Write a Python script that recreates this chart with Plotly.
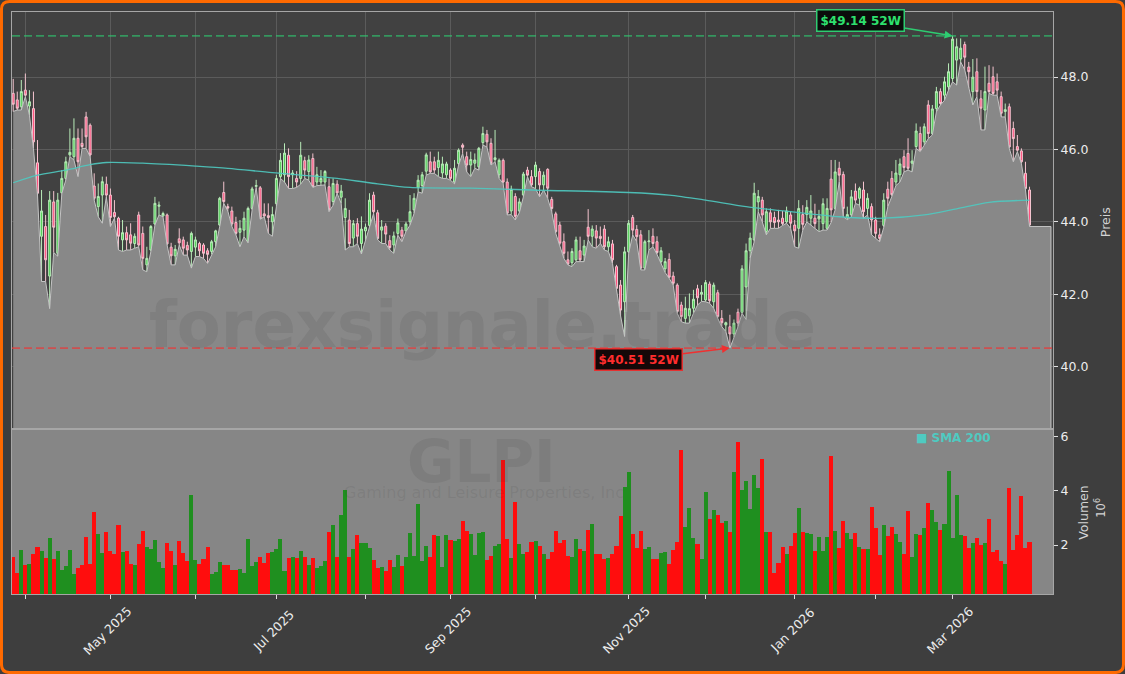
import plotly.graph_objects as go
from plotly.subplots import make_subplots

# ---------------- data (daily candles, trading-day index 0..251) ----------------
opens = [
    47.55, 47.37, 47.18, 47.64, 47.20, 47.13, 45.63, 43.60, 43.87, 42.50,
    44.55, 43.13, 44.80, 45.20, 45.85, 45.80, 46.31, 46.17, 46.90, 46.67,
    44.99, 44.42, 44.74, 45.04, 44.74, 44.26, 44.10, 43.50, 43.70, 43.64,
    43.40, 44.19, 43.68, 42.81, 43.22, 43.94, 44.43, 44.16, 44.19, 43.30,
    43.06, 43.53, 43.50, 43.35, 43.18, 43.30, 43.40, 43.36, 43.20, 43.18,
    43.45, 43.91, 44.81, 44.42, 44.30, 43.98, 43.71, 43.77, 43.43, 44.37,
    44.98, 44.94, 44.22, 44.17, 44.00, 44.50, 45.25, 45.30, 45.84, 45.30,
    45.20, 45.20, 45.69, 45.39, 45.75, 45.10, 45.10, 45.10, 44.97, 44.56,
    45.04, 44.68, 44.12, 44.05, 43.55, 43.95, 43.40, 43.75, 43.90, 44.74,
    44.25, 43.77, 43.88, 43.48, 43.36, 43.68, 43.77, 43.75, 44.00, 44.33,
    44.95, 45.00, 45.40, 45.66, 45.66, 45.50, 45.35, 45.30, 45.43, 45.10,
    45.61, 46.12, 45.80, 45.57, 45.62, 45.52, 46.19, 46.42, 46.17, 45.72,
    45.30, 45.70, 45.10, 44.30, 44.70, 44.30, 44.74, 45.43, 45.25, 45.25,
    45.39, 45.02, 45.45, 44.62, 44.22, 43.91, 43.45, 42.95, 42.87, 42.95,
    43.20, 43.08, 43.85, 43.60, 43.75, 43.60, 43.80, 43.31, 43.39, 42.76,
    42.25, 41.79, 43.17, 44.12, 43.79, 43.64, 42.72, 43.45, 43.60, 43.45,
    42.90, 42.70, 42.96, 42.50, 42.25, 41.70, 41.33, 41.40, 41.61, 42.15,
    42.00, 41.84, 42.28, 41.79, 42.04, 41.33, 41.15, 41.10, 40.90, 41.50,
    41.50, 42.20, 43.20, 43.50, 44.55, 44.60, 43.73, 44.25, 44.12, 44.05,
    44.10, 44.00, 44.19, 43.91, 43.82, 44.20, 44.20, 44.10, 44.10, 44.08,
    43.95, 43.82, 45.18, 44.37, 45.48, 45.31, 44.11, 44.19, 44.85, 44.65,
    44.88, 44.37, 44.42, 44.05, 43.64, 43.90, 44.90, 45.20, 45.10, 45.30,
    45.80, 45.89, 45.62, 46.08, 46.44, 46.21, 47.23, 46.44, 47.13, 47.60,
    47.50, 47.73, 47.96, 48.47, 48.50, 48.90, 48.28, 47.60, 48.15, 47.40,
    47.09, 47.83, 48.01, 47.87, 47.46, 47.05, 47.18, 46.58, 46.08, 45.96,
    45.34, 44.88,
]
highs = [
    47.95, 47.60, 47.92, 48.10, 47.64, 47.60, 46.26, 44.88, 44.19, 44.85,
    44.85, 44.80, 45.43, 45.80, 46.58, 46.86, 46.58, 46.58, 47.04, 46.72,
    45.34, 45.06, 45.25, 45.25, 44.92, 44.60, 44.14, 44.05, 43.87, 43.96,
    43.68, 44.28, 43.87, 43.31, 43.91, 44.69, 44.56, 44.28, 44.23, 43.42,
    43.36, 43.82, 43.59, 43.45, 43.73, 43.59, 43.45, 43.41, 43.27, 43.50,
    43.78, 44.69, 45.11, 44.50, 44.42, 44.14, 44.05, 44.28, 44.42, 44.97,
    45.16, 44.99, 44.51, 44.51, 44.42, 45.30, 45.90, 46.17, 46.03, 45.43,
    45.40, 46.21, 45.80, 45.84, 45.89, 45.52, 45.43, 45.43, 45.20, 45.20,
    45.15, 45.02, 44.65, 44.33, 44.05, 44.10, 44.15, 43.95, 44.79, 44.83,
    44.33, 44.05, 43.96, 43.63, 43.73, 44.09, 43.86, 44.00, 44.74, 44.79,
    45.29, 45.38, 45.91, 45.94, 45.80, 45.94, 45.80, 45.66, 45.48, 45.71,
    46.03, 46.17, 45.94, 45.94, 45.89, 46.07, 46.63, 46.54, 46.31, 46.54,
    45.75, 45.75, 45.20, 45.00, 44.79, 44.65, 45.38, 45.52, 45.43, 45.66,
    45.48, 45.39, 45.48, 44.69, 44.28, 44.00, 43.68, 43.18, 43.27, 43.59,
    43.59, 43.50, 44.35, 43.90, 43.91, 43.87, 43.91, 43.59, 43.50, 42.81,
    42.39, 43.31, 44.05, 44.19, 43.91, 43.77, 43.50, 43.77, 43.82, 43.60,
    43.30, 43.00, 43.13, 42.62, 42.30, 41.79, 41.93, 42.02, 42.12, 42.26,
    42.25, 42.39, 42.35, 42.32, 42.12, 41.56, 41.24, 41.43, 41.30, 41.60,
    42.80, 43.40, 43.70, 45.08, 44.88, 44.69, 44.37, 44.37, 44.28, 44.33,
    44.30, 44.42, 44.28, 44.05, 44.60, 44.46, 44.60, 44.74, 44.50, 44.33,
    44.65, 44.65, 45.71, 45.71, 45.66, 45.39, 44.42, 44.88, 45.06, 44.97,
    45.11, 44.79, 44.51, 44.14, 43.82, 44.79, 45.11, 45.40, 45.71, 45.75,
    45.98, 46.31, 45.98, 46.72, 46.63, 46.72, 47.36, 47.23, 47.73, 47.69,
    48.01, 48.38, 49.14, 49.07, 49.07, 48.98, 48.42, 48.50, 48.52, 47.64,
    48.29, 48.33, 48.29, 48.10, 47.60, 47.27, 47.27, 46.77, 46.40, 46.03,
    45.66, 44.97,
]
lows = [
    47.05, 47.09, 47.09, 47.46, 46.95, 46.03, 44.74, 42.35, 42.35, 41.60,
    43.15, 43.05, 44.78, 45.16, 45.80, 45.71, 45.25, 46.03, 46.03, 45.80,
    44.60, 44.14, 43.96, 44.69, 43.87, 44.10, 43.22, 43.18, 43.22, 43.22,
    43.27, 43.31, 42.67, 42.62, 43.18, 43.91, 44.19, 44.14, 43.36, 42.81,
    42.81, 43.36, 43.08, 43.08, 42.72, 43.04, 43.04, 42.99, 42.85, 43.10,
    43.31, 43.87, 44.51, 44.30, 43.87, 43.64, 43.31, 43.59, 43.42, 44.33,
    44.95, 44.07, 44.14, 43.68, 43.60, 44.42, 45.20, 45.10, 44.92, 44.92,
    44.95, 45.04, 45.20, 45.15, 44.95, 45.00, 45.00, 45.02, 44.28, 44.46,
    44.79, 44.51, 43.22, 43.31, 43.31, 43.40, 43.11, 43.50, 43.85, 44.23,
    43.50, 43.40, 43.40, 43.22, 43.13, 43.63, 43.45, 43.73, 43.91, 44.23,
    44.83, 44.79, 45.29, 45.34, 45.34, 45.25, 45.20, 45.20, 45.15, 45.05,
    45.57, 45.89, 45.38, 45.25, 45.48, 45.43, 46.12, 46.07, 45.57, 45.66,
    45.20, 45.06, 44.19, 44.20, 44.05, 44.25, 44.69, 45.25, 44.97, 44.92,
    44.69, 44.88, 44.65, 44.28, 43.68, 43.36, 42.99, 42.81, 42.76, 42.90,
    42.90, 42.90, 43.50, 43.31, 43.27, 43.41, 43.22, 43.18, 42.85, 42.07,
    41.40, 40.83, 43.13, 43.64, 43.45, 42.67, 42.67, 43.22, 43.31, 43.10,
    42.85, 42.60, 42.44, 42.25, 41.47, 41.24, 41.20, 41.20, 41.47, 41.70,
    41.80, 41.79, 41.75, 41.61, 41.33, 41.10, 40.97, 40.51, 40.80, 41.10,
    41.47, 41.30, 43.00, 43.45, 44.28, 44.00, 43.64, 43.82, 43.82, 43.82,
    43.90, 43.96, 43.82, 43.31, 43.27, 43.77, 44.00, 43.91, 43.82, 43.73,
    43.77, 43.77, 43.98, 44.33, 45.11, 44.14, 44.06, 44.14, 44.51, 44.46,
    44.10, 44.19, 43.64, 43.54, 43.45, 43.85, 44.42, 44.70, 45.00, 45.10,
    45.38, 45.43, 45.38, 46.03, 45.94, 46.12, 46.30, 46.40, 47.04, 47.23,
    47.36, 47.64, 47.87, 47.78, 48.42, 48.20, 47.69, 47.23, 47.46, 46.54,
    46.54, 47.55, 47.50, 47.50, 46.90, 46.90, 46.03, 45.66, 45.94, 45.61,
    44.88, 43.87,
]
closes = [
    47.25, 47.14, 47.60, 47.50, 47.32, 46.21, 44.79, 44.30, 42.95, 44.60,
    43.85, 44.60, 45.20, 45.66, 45.92, 46.31, 45.66, 46.08, 46.35, 45.85,
    44.65, 44.70, 45.11, 44.74, 44.12, 44.14, 43.60, 43.70, 43.50, 43.41,
    43.60, 43.36, 42.99, 42.99, 43.87, 44.51, 44.46, 44.23, 43.39, 43.06,
    43.24, 43.42, 43.27, 43.22, 43.68, 43.50, 43.20, 43.13, 43.10, 43.45,
    43.75, 44.65, 44.56, 44.38, 43.94, 43.68, 43.82, 44.10, 44.37, 44.91,
    45.00, 44.10, 44.16, 44.12, 44.20, 45.20, 45.70, 45.90, 45.25, 45.35,
    45.10, 45.84, 45.43, 45.71, 44.97, 45.30, 45.20, 45.39, 44.33, 45.06,
    44.80, 44.85, 44.37, 43.40, 43.95, 43.60, 43.80, 43.85, 44.60, 44.28,
    43.54, 43.86, 43.66, 43.29, 43.61, 43.97, 43.60, 43.94, 44.28, 44.65,
    45.15, 45.30, 45.85, 45.38, 45.43, 45.70, 45.60, 45.60, 45.20, 45.48,
    45.98, 46.06, 45.57, 45.72, 45.71, 46.03, 46.44, 46.21, 45.62, 45.77,
    45.70, 45.10, 44.24, 44.90, 44.15, 44.55, 45.32, 45.29, 45.02, 45.57,
    45.02, 45.29, 44.93, 44.37, 43.73, 43.41, 43.13, 42.83, 43.18, 43.50,
    42.95, 43.33, 43.60, 43.80, 43.55, 43.54, 43.31, 43.45, 42.95, 42.16,
    41.56, 43.17, 43.96, 43.77, 43.59, 42.72, 43.45, 43.47, 43.40, 43.15,
    43.20, 42.90, 42.47, 42.30, 41.52, 41.38, 41.61, 41.60, 41.86, 41.90,
    42.05, 42.32, 41.82, 42.25, 41.38, 41.21, 41.21, 40.90, 41.20, 41.20,
    42.70, 43.20, 43.55, 44.79, 44.70, 44.19, 44.28, 44.00, 43.98, 44.00,
    43.95, 44.30, 43.96, 43.75, 44.37, 43.93, 44.40, 44.30, 43.95, 44.15,
    44.50, 44.37, 44.33, 45.38, 45.29, 44.37, 44.20, 44.69, 44.60, 44.92,
    44.28, 44.65, 44.05, 43.68, 43.54, 44.60, 44.65, 44.75, 45.35, 45.60,
    45.50, 45.48, 45.68, 46.51, 45.98, 46.63, 46.44, 47.12, 47.60, 47.27,
    47.87, 48.15, 49.05, 48.84, 48.80, 48.55, 48.15, 48.00, 47.60, 47.14,
    47.60, 47.60, 47.55, 47.64, 47.00, 47.10, 46.07, 46.30, 45.98, 45.66,
    44.92, 43.91,
]
volumes_m = [  # volume in millions of shares
    1.57, 0.98, 1.81, 1.26, 1.32, 1.67, 1.94, 1.78, 1.53, 2.26,
    1.48, 1.78, 1.07, 1.22, 1.81, 0.95, 1.16, 1.26, 2.31, 1.32,
    3.23, 2.41, 1.69, 2.48, 1.78, 1.67, 2.74, 1.74, 1.78, 1.32,
    1.26, 2.04, 2.52, 1.94, 1.85, 2.19, 1.37, 1.16, 2.07, 1.78,
    1.25, 2.15, 1.69, 1.41, 3.85, 1.44, 1.30, 1.48, 1.93, 0.95,
    1.00, 1.36, 1.26, 1.26, 1.07, 1.07, 1.11, 0.98, 2.22, 1.23,
    1.37, 1.57, 1.33, 1.70, 1.74, 1.86, 2.22, 1.04, 1.52, 1.56,
    1.52, 1.78, 1.56, 1.26, 1.52, 1.16, 1.22, 1.41, 2.48, 2.74,
    1.56, 3.10, 4.04, 1.56, 1.85, 2.37, 2.06, 2.06, 1.89, 1.44,
    1.15, 1.19, 1.04, 1.44, 1.19, 1.63, 1.22, 1.57, 2.44, 1.59,
    3.52, 1.41, 1.96, 1.57, 2.37, 2.33, 1.20, 2.37, 2.19, 2.16,
    2.22, 2.90, 2.52, 2.41, 1.63, 2.44, 2.48, 1.44, 1.59, 1.96,
    2.04, 5.12, 2.22, 1.52, 3.57, 2.04, 1.67, 1.74, 2.11, 2.15,
    1.96, 1.67, 1.48, 1.74, 2.52, 2.07, 2.19, 1.59, 1.56, 2.22,
    1.85, 1.78, 2.56, 2.78, 1.67, 1.67, 1.48, 1.52, 1.67, 1.96,
    3.05, 4.15, 4.70, 2.41, 1.90, 2.52, 1.85, 1.93, 1.48, 1.48,
    1.70, 1.74, 1.30, 1.81, 2.11, 5.48, 2.67, 3.37, 2.26, 2.04,
    1.48, 3.96, 2.96, 3.30, 3.11, 2.81, 2.89, 2.48, 4.67, 5.79,
    4.01, 4.37, 3.32, 4.56, 4.09, 5.15, 2.48, 2.48, 0.98, 1.33,
    1.93, 1.67, 1.96, 2.44, 3.37, 2.48, 2.44, 2.41, 1.78, 2.30,
    1.78, 2.30, 5.26, 2.52, 1.89, 2.89, 2.44, 2.22, 2.44, 1.93,
    1.85, 1.85, 3.41, 2.63, 1.63, 2.74, 2.33, 2.67, 2.41, 2.11,
    1.67, 3.26, 1.56, 2.41, 2.37, 2.63, 3.56, 3.30, 2.85, 2.56,
    2.78, 4.74, 2.26, 3.85, 2.37, 2.33, 1.89, 2.07, 2.26, 2.00,
    2.07, 2.96, 1.74, 1.81, 1.41, 1.30, 4.11, 1.81, 2.37, 3.81,
    1.89, 2.11,
]
# SMA 200 (trading-day index, value)
sma_idx = [0, 6, 13, 19, 23, 32, 45, 53, 64, 80, 88, 98, 113, 128,
           152, 162, 171, 181, 192, 204, 215, 225, 233, 241, 251]
sma_val = [45.08, 45.29, 45.43, 45.58, 45.64, 45.62, 45.54, 45.48, 45.36, 45.20,
           45.08, 44.95, 44.93, 44.88, 44.81, 44.74, 44.60, 44.42, 44.28, 44.14,
           44.10, 44.19, 44.36, 44.54, 44.60]
# first trading day of each month (index) and its label
month_idx = [3, 24, 45, 65, 87, 108, 129, 152, 171, 193, 213, 232]
month_text = ["", "May 2025", "", "Jul 2025", "", "Sep 2025", "",
              "Nov 2025", "", "Jan 2026", "", "Mar 2026"]
price_ticks = [40, 42, 44, 46, 48]
volume_ticks = [2, 4, 6]
ticker = "GLPI"
company = "Gaming and Leisure Properties, Inc"
watermark = "forexsignale.trade"

# ---------------- styling ----------------
BG = "#3e3e3e"
PLOT_BG = "#414141"
AREA = "#888888"
GRID = "#5b5b5b"
SPINE = "#a6a6a6"
TXT = "#ececec"
SMA_C = "#4fcac1"
UP_VOL, DN_VOL = "#1f8f1f", "#ff0d0d"
FONT = "DejaVu Sans"

n = len(closes)
idx = list(range(n))
x_lo, x_hi = -0.3, 256.8
x_end = n + 4.3
hi_i = max(idx, key=lambda i: highs[i])
lo_i = min(idx, key=lambda i: lows[i])
hi_v, lo_v = highs[hi_i], lows[lo_i]

fig = make_subplots(rows=2, cols=1, shared_xaxes=True, vertical_spacing=0.0)

# gray area under the lows
fig.add_trace(go.Scatter(
    x=idx + [x_end, x_end], y=lows + [lows[-1], 0], mode="lines",
    fill="tozeroy", fillcolor=AREA,
    line=dict(color="#c4c4c4", width=1), hoverinfo="skip", showlegend=False),
    row=1, col=1)

fig.add_trace(go.Candlestick(
    x=idx, open=opens, high=highs, low=lows, close=closes,
    increasing=dict(line=dict(color="#b9ecb9", width=1), fillcolor="#4fcf55"),
    decreasing=dict(line=dict(color="#f4c4cf", width=1), fillcolor="#ff4f7d"),
    whiskerwidth=0, showlegend=False), row=1, col=1)

fig.add_trace(go.Scatter(
    x=sma_idx, y=sma_val, mode="lines",
    line=dict(color=SMA_C, width=1.3, shape="spline", smoothing=0.8),
    opacity=0.9, name="SMA 200", showlegend=False), row=1, col=1)

vol_colors = [UP_VOL if c >= o else DN_VOL for o, c in zip(opens, closes)]
fig.add_trace(go.Bar(
    x=idx, y=volumes_m, marker=dict(color=vol_colors, line=dict(width=0)),
    width=1.0, showlegend=False), row=2, col=1)

fig.update_layout(
    width=1125, height=674,
    margin=dict(l=12, r=72, t=12, b=80),
    paper_bgcolor=BG, plot_bgcolor=PLOT_BG,
    font=dict(family=FONT, color=TXT, size=12),
    showlegend=False, bargap=0,
)
fig.update_xaxes(range=[x_lo, x_hi], zeroline=False, showline=True, mirror=True,
                 linecolor=SPINE, linewidth=1)
fig.update_layout(
    xaxis=dict(rangeslider=dict(visible=False), tickvals=month_idx,
               showticklabels=False, ticks="", showgrid=True, gridcolor=GRID,
               gridwidth=1),
    xaxis2=dict(tickvals=month_idx, showticklabels=False,
                ticks="outside", ticklen=4, tickcolor="#e0e0e0", showgrid=False),
    yaxis=dict(domain=[0.2852, 1.0], side="right", range=[38.30, 49.80],
               tickvals=price_ticks, tickformat=".1f", ticks="outside", ticklen=4,
               tickcolor="#e0e0e0", showgrid=True, gridcolor=GRID, zeroline=False,
               showline=True, mirror=True, linecolor=SPINE,
               tickfont=dict(size=12.5, color=TXT)),
    yaxis2=dict(domain=[0.0, 0.2818], side="right", range=[0.2, 6.23],
                tickvals=volume_ticks, ticks="outside", ticklen=4,
                tickcolor="#e0e0e0", showgrid=False, zeroline=False,
                showline=True, mirror=True, linecolor=SPINE,
                tickfont=dict(size=12.5, color=TXT)),
)

shapes = []
# gray background of the volume panel
shapes.append(dict(type="rect", xref="x2 domain", yref="y2 domain", x0=0, x1=1,
                   y0=0, y1=1, fillcolor="#868686", line=dict(width=0), layer="below"))
# 52-week high / low dashed lines
shapes.append(dict(type="line", xref="x domain", yref="y", x0=0, x1=1, y0=hi_v, y1=hi_v,
                   line=dict(color="rgba(46,204,113,0.62)", width=1.8, dash="8px,4px")))
shapes.append(dict(type="line", xref="x domain", yref="y", x0=0, x1=1, y0=lo_v, y1=lo_v,
                   line=dict(color="rgba(232,58,58,0.72)", width=1.8, dash="8px,4px")))
# orange rounded frame around the whole figure
x0, x1, y0, y1 = -0.0101, 1.0677, -0.1349, 1.0180
rx, ry = 0.0077, 0.0137
path = (f"M {x0+rx},{y1} L {x1-rx},{y1} Q {x1},{y1} {x1},{y1-ry} "
        f"L {x1},{y0+ry} Q {x1},{y0} {x1-rx},{y0} L {x0+rx},{y0} "
        f"Q {x0},{y0} {x0},{y0+ry} L {x0},{y1-ry} Q {x0},{y1} {x0+rx},{y1} Z")
shapes.append(dict(type="path", xref="paper", yref="paper", path=path,
                   line=dict(color="#ff6a00", width=3)))
fig.update_layout(shapes=shapes)

wm = "rgba(55,55,55,0.11)"


def centered(**kw):
    d = dict(xanchor="center", yanchor="middle", showarrow=False)
    d.update(kw)
    return d


ann = [
    centered(text=f"<b>{watermark}</b>", x=0.4515, y=0.462, xref="paper", yref="paper",
             font=dict(size=64, color=wm, family=FONT)),
    centered(text=f"<b>{ticker}</b>", x=0.451, y=0.226, xref="paper", yref="paper",
             font=dict(size=58, color=wm, family=FONT)),
    centered(text=company, x=0.453, y=0.175, xref="paper", yref="paper",
             font=dict(size=16, color=wm, family=FONT)),
    centered(text=f"<b>${hi_v:.2f} 52W</b>", x=hi_i, y=hi_v, xref="x", yref="y",
             ax=-92, ay=-15, showarrow=True, arrowhead=2, arrowsize=1, arrowwidth=1.6,
             arrowcolor="#2ecc71", font=dict(size=12, color="#2ee06e", family=FONT),
             bgcolor="#0b0b0b", bordercolor="#2ecc71", borderwidth=1.5, borderpad=3),
    centered(text=f"<b>${lo_v:.2f} 52W</b>", x=lo_i, y=lo_v, xref="x", yref="y",
             ax=-91, ay=11, showarrow=True, arrowhead=2, arrowsize=1, arrowwidth=1.6,
             arrowcolor="#f03030", font=dict(size=12, color="#ff2d2d", family=FONT),
             bgcolor="#140808", bordercolor="#e63030", borderwidth=1.5, borderpad=3),
    centered(text="<b>■ SMA 200</b>", x=0.904, y=0.268, xref="paper", yref="paper",
             font=dict(size=12, color=SMA_C, family=FONT)),
    centered(text="Preis", x=1.050, y=0.639, xref="paper", yref="paper", textangle=-90,
             font=dict(size=12.5, color="#d4d4d4", family=FONT)),
    centered(text="Volumen", x=1.029, y=0.140, xref="paper", yref="paper", textangle=-90,
             font=dict(size=12.5, color="#d4d4d4", family=FONT)),
    centered(text="10<sup>6</sup>", x=1.046, y=0.148, xref="paper", yref="paper",
             textangle=-90, font=dict(size=11.5, color="#d4d4d4", family=FONT)),
]
# rotated month labels, centred below their tick (matplotlib style)
for mi, mt in zip(month_idx, month_text):
    if mt:
        ann.append(centered(text=mt, x=mi, y=-0.0619, xref="x2", yref="paper",
                            xshift=-3, textangle=-45,
                            font=dict(size=12.5, color=TXT, family=FONT)))
fig.update_layout(annotations=ann)

fig.write_html("out.html", config={"displayModeBar": False},
               post_script="document.body.style.margin='0';"
                           "document.body.style.background='#3e3e3e';")
